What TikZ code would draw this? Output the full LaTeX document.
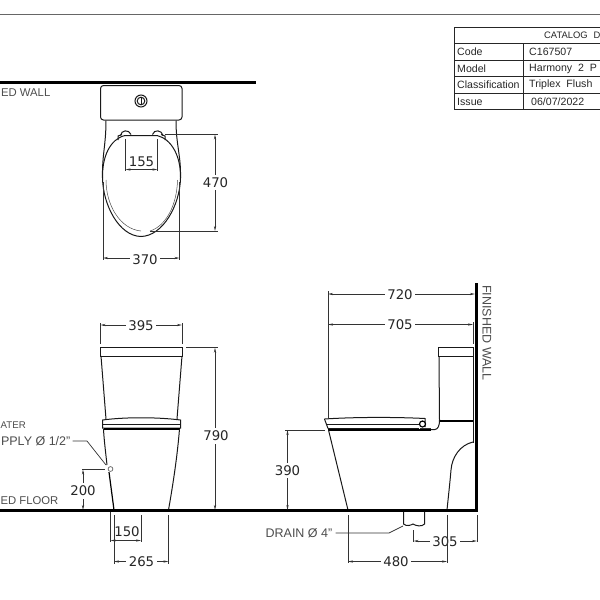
\documentclass[tikz,border=0pt]{standalone}
\usepackage{fontspec}
\setmainfont{Liberation Sans}
\newfontfamily\dimfont{DejaVu Sans}
\usetikzlibrary{arrows.meta}
\tikzset{
	outline/.style={line width=1pt, color=black!90},
	extline/.style={line width=0.7pt, color=black!80},
	dimline/.style={line width=0.7pt, color=black!80, {Stealth[length=5pt,width=2.2pt]}-{Stealth[length=5pt,width=2.2pt]}},
	leader/.style={line width=0.7pt, color=black!80},
	heavyline/.style={line width=2.2pt, color=black},
	dimlabel/.style={fill=white, inner sep=2.5pt, font=\dimfont\fontsize{13.3}{13}\selectfont, text=black!85},
	notelabel/.style={inner sep=0pt, font=\fontsize{12.5}{13}\selectfont, text=black!70},
	edgelabel/.style={notelabel, anchor=east, font=\fontsize{11.3}{13}\selectfont},
	celltext/.style={inner sep=0pt, anchor=west, font=\fontsize{10.6}{11}\selectfont, text=black!85}
}
\begin{document}
\begin{tikzpicture}[x=1pt, y=-1pt]
		\useasboundingbox (0, 0) rectangle (600, 600);
		%%%%% START %%%%%

		\draw[line width=0.9pt, color=black!60] (0, 14.5) -- (600, 14.5);

		% catalog table
		\draw[line width=0.9pt, color=black!85] (454, 27) rectangle (600, 109.5);
		\foreach \rowy in {43.3, 60, 76.6, 93}
			\draw[line width=0.9pt, color=black!85] (454, \rowy) -- (600, \rowy);
		\draw[line width=0.9pt, color=black!85] (523.5, 43.3) -- (523.5, 109.5);
		\node[celltext, font=\fontsize{9.4}{11}\selectfont] (title) at (544, 35.5) {CATALOG\hspace{6pt}D};
		\node[celltext] (codekey) at (457, 52) {Code};
		\node[celltext] (modelkey) at (457, 68.5) {Model};
		\node[celltext] (classkey) at (457, 84.5) {Classification};
		\node[celltext] (issuekey) at (457, 101.5) {Issue};
		\node[celltext] (codeval) at (529, 52) {C167507};
		\node[celltext] (modelval) at (529, 68.5) {Harmony\ \ 2\ \ P};
		\node[celltext] (classval) at (529, 84.5) {Triplex\ \ Flush};
		\node[celltext] (issueval) at (531, 101.5) {06/07/2022};

		% top view
		\draw[heavyline] (0, 82.5) -- (256, 82.5);
		\node[edgelabel] (topwall) at (50.5, 92.5) {ED WALL};
		\draw[outline, rounded corners=3pt] (100.5, 85.5) -- (100.5, 120) -- (182, 120) -- (182, 85.5) -- cycle;
		\draw[outline] (141, 101) circle (6);
		\draw[outline] (141, 101) circle (3.8);
		\draw[outline] (141, 97.5) -- (141, 104.5);
		\draw[outline] (106, 120.5) .. controls (106, 145) and (102, 155) .. (102.5, 178);
		\draw[outline] (176, 120.5) .. controls (176, 145) and (181, 155) .. (180.5, 178);
		\draw[outline] (125, 135.5) -- (157, 135.5)
			.. controls (172, 139) and (181, 157) .. (180.5, 178)
			.. controls (180, 205) and (163, 236) .. (141, 236.5)
			.. controls (119, 236) and (103, 205) .. (102.5, 178)
			.. controls (102, 157) and (110, 139) .. (125, 135.5);
		\draw[line width=0.5pt, color=black!70] (150, 231) .. controls (166, 226) and (177, 205) .. (177.5, 180);
		\draw[line width=0.5pt, color=black!70] (106, 180) .. controls (106, 205) and (120, 229) .. (141, 231);
		\draw[outline] (118, 140) -- (118, 136) -- (122, 134.5);
		\draw[outline] (165, 140) -- (165, 136) -- (161, 134.5);
		\draw[outline] (120.5, 135.5) .. controls (121, 130) and (129, 129) .. (131, 134.5);
		\draw[outline] (152.5, 134.5) .. controls (154, 129) and (162, 130) .. (163, 135.5);

		\draw[extline] (125.5, 139) -- (125.5, 171);
		\draw[extline] (157.5, 139) -- (157.5, 171);
		\draw[dimline] (125.5, 169.5) -- (157.5, 169.5);
		\node[dimlabel, fill=none] (dimseat) at (141.5, 161.5) {155};
		\draw[extline] (165, 134.5) -- (218, 134.5);
		\draw[extline] (150, 231) -- (218, 231);
		\draw[dimline] (215, 134.5) -- (215, 231);
		\node[dimlabel] (dimdepth) at (215.5, 182.5) {470};
		\draw[extline] (103, 182) -- (103, 260);
		\draw[extline] (179.5, 182) -- (179.5, 260);
		\draw[dimline] (103, 258) -- (179.5, 258);
		\node[dimlabel] (dimwidth) at (145, 259.5) {370};

		% front view
		\draw[outline] (100.5, 347.7) rectangle (182, 356);
		\draw[outline] (101, 356) -- (106, 419);
		\draw[outline] (182, 356) -- (177, 419);
		\draw[outline] (102.5, 420) .. controls (125, 417) and (157, 417) .. (180.5, 420) -- (180.5, 428) -- (102.5, 428) -- cycle;
		\draw[outline] (102.5, 424) -- (180.5, 424);
		\draw[line width=1.4pt, color=black] (103.5, 429) -- (179.5, 429);
		\draw[outline] (103.5, 429) .. controls (104, 440) and (106, 455) .. (107, 465);
		\draw[line width=1.2pt, color=black] (109, 472) -- (114, 510);
		\draw[outline] (179.5, 429) .. controls (177, 460) and (172, 490) .. (168.5, 510);
		\draw[line width=0.7pt, color=black!60] (110.5, 469) circle (2.4);

		\draw[extline] (100.5, 323) -- (100.5, 344);
		\draw[extline] (182, 323) -- (182, 344);
		\draw[dimline] (100.5, 325) -- (182, 325);
		\node[dimlabel] (dimtank) at (141, 326) {395};
		\draw[extline] (186, 347.7) -- (218, 347.7);
		\draw[dimline] (215, 347.7) -- (215, 510);
		\node[dimlabel] (dimheight) at (216, 436) {790};
		\node[edgelabel, font=\fontsize{9.7}{13}\selectfont] (waterone) at (26, 425) {ATER};
		\node[notelabel, anchor=east] (watertwo) at (70.5, 441) {PPLY Ø 1/2"};
		\draw[leader] (watertwo.east) ++(2, 0) -- (87, 441) -- (106, 465);
		\draw[extline] (82, 469.5) -- (105, 469.5);
		\draw[dimline] (83, 469.5) -- (83, 510);
		\node[dimlabel] (dimsupply) at (83, 491) {200};
		\node[edgelabel] (floorlabel) at (58.5, 501) {ED FLOOR};
		\draw[extline] (110.5, 512) -- (110.5, 542);
		\draw[extline] (141, 515) -- (141, 542);
		\draw[dimline] (110.5, 540.5) -- (141, 540.5);
		\node[dimlabel, fill=none] (dimoffset) at (127, 532) {150};
		\draw[extline] (114, 515) -- (114, 564);
		\draw[extline] (168.5, 515) -- (168.5, 564);
		\draw[dimline] (114, 561.5) -- (168.5, 561.5);
		\node[dimlabel] (dimfoot) at (141.5, 561.5) {265};

		% side view
		\draw[outline] (438.5, 347.7) rectangle (473, 356.5);
		\draw[outline] (439, 356.5) -- (439.5, 420);
		\draw[line width=1.2pt, color=black] (440, 421) -- (473, 421);
		\draw[outline] (439.5, 420) .. controls (439.5, 426) and (438, 429) .. (435, 429.5) -- (431, 429.5);
		\draw[outline] (473, 356.5) -- (473, 443);
		\draw[outline] (473, 442) .. controls (460, 445) and (452, 457) .. (451, 470) .. controls (450, 482) and (448, 500) .. (447, 510);
		\draw[outline] (324.5, 419) .. controls (355, 417) and (395, 417) .. (425, 418.5) -- (425, 427);
		\draw[outline] (324.5, 419) -- (328, 428.5);
		\draw[outline] (327, 424) -- (420, 424);
		\draw[outline] (328, 428) -- (419, 428);
		\draw[line width=1.2pt, color=black] (328, 430) -- (431, 430);
		\draw[line width=1.2pt, color=black, fill=white] (422.5, 424) circle (3);
		\draw[line width=1pt, color=black!80] (420, 428) -- (431, 428);
		\draw[outline] (328.5, 430) -- (348, 510);

		\draw[heavyline] (0, 510.5) -- (478, 510.5);
		\draw[line width=2.6pt, color=black] (476.5, 283) -- (476.5, 511.5);
		\node[notelabel, rotate=-90] (sidewall) at (487, 333) {FINISHED WALL};

		\draw[extline] (328, 291) -- (328, 419);
		\draw[dimline] (328, 294) -- (475, 294);
		\node[dimlabel] (dimreach) at (400, 295) {720};
		\draw[extline] (473, 322) -- (473, 344);
		\draw[dimline] (328, 324.5) -- (473, 324.5);
		\node[dimlabel] (dimbody) at (400, 325) {705};
		\draw[extline] (285, 430) -- (325, 430);
		\draw[dimline] (287.5, 430) -- (287.5, 510);
		\node[dimlabel] (dimseatht) at (287.5, 470.5) {390};

		% drain
		\draw[outline] (403.5, 512) -- (403.5, 524) .. controls (407, 527) and (411, 525) .. (413, 524) .. controls (416, 526) and (422, 527) .. (424.5, 524) -- (424.5, 512);
		\node[notelabel, anchor=east] (drainlabel) at (332.5, 533) {DRAIN Ø 4"};
		\draw[leader] (drainlabel.east) ++(3, 0) -- (389, 533) -- (403, 526);
		\draw[extline] (413.5, 530) -- (413.5, 542);
		\draw[extline] (477, 515) -- (477, 542);
		\draw[dimline] (413.5, 541) -- (477, 541);
		\node[dimlabel] (dimdrain) at (445, 541.5) {305};
		\draw[extline] (348, 515) -- (348, 563);
		\draw[extline] (447, 515) -- (447, 563);
		\draw[dimline] (348, 561.5) -- (447, 561.5);
		\node[dimlabel] (dimbase) at (396, 562) {480};

		%%%%% END %%%%%
	\end{tikzpicture}
\end{document}
